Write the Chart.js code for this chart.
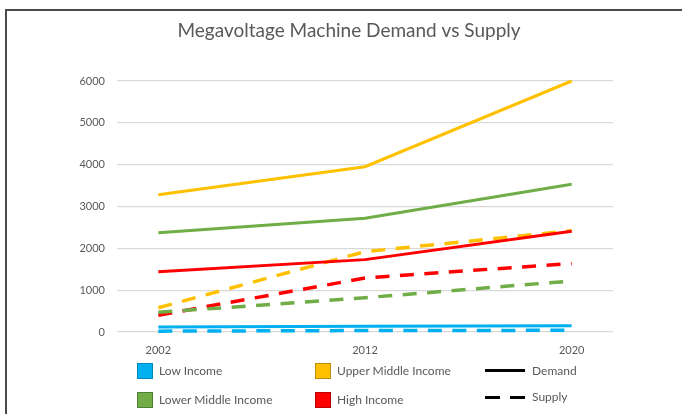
<!DOCTYPE html>
<html><head><meta charset="utf-8">
<script src="https://cdn.jsdelivr.net/npm/chart.js@4/dist/chart.umd.min.js"></script>
<style>
html,body{margin:0;padding:0;background:#fff;}
#wrap{position:relative;width:682px;height:414px;overflow:hidden;background:#fff;}
#frame{position:absolute;left:5px;top:9px;width:700px;height:420px;border-top:2px solid #4a4a4a;border-left:2px solid #4a4a4a;box-sizing:border-box;}
canvas{position:absolute;left:0;top:0;}
.lg{position:absolute;font-family:Lato, sans-serif;font-size:12px;color:#595959;white-space:nowrap;line-height:14px;}
.sq{position:absolute;width:14px;height:14px;border:1px solid;}
.ln{position:absolute;height:0;width:40px;border-top:3px solid #000;}
</style></head>
<body>
<div id="wrap">
<div id="frame"></div>
<canvas id="c" width="682" height="414"></canvas>
<div id="legend"></div>
</div>
<script>
const years = ['2002', '2012', '2020'];
const groups = ['Low Income', 'Lower Middle Income', 'Upper Middle Income', 'High Income'];
const colors = ['#00B0F0', '#70AD47', '#FFC000', '#FF0000'];
const borders = ['#0089bb', '#507e33', '#bf9000', '#b80000'];
const seriesKinds = ['Demand', 'Supply'];
const yTicks = [0, 1000, 2000, 3000, 4000, 5000, 6000];

const demandLow = [120, 140, 150];
const demandLowerMiddle = [2370, 2720, 3530];
const demandUpperMiddle = [3280, 3950, 6000];
const demandHigh = [1440, 1730, 2410];

const supplyLow = [20, 35, 40];
const supplyLowerMiddle = [470, 820, 1220];
const supplyUpperMiddle = [580, 1920, 2420];
const supplyHigh = [400, 1290, 1640];

const demand = [demandLow, demandLowerMiddle, demandUpperMiddle, demandHigh];
const supply = [supplyLow, supplyLowerMiddle, supplyUpperMiddle, supplyHigh];

const toPts = arr => arr.map((v, i) => ({x: i, y: v}));
const datasets = [];
groups.forEach((g, i) => {
  datasets.push({label: g + ' Demand', data: toPts(demand[i]), borderColor: colors[i], borderWidth: 3, clip: false, order: 1});
});
groups.forEach((g, i) => {
  datasets.push({label: g + ' Supply', data: toPts(supply[i]), borderColor: colors[i], borderWidth: 3.5, borderDash: [14, 10.5], clip: false, order: 2});
});

const tickFont = {family: 'Lato', size: 11};
new Chart(document.getElementById('c'), {
  type: 'line',
  data: {datasets},
  options: {
    responsive: false, animation: false, events: [],
    layout: {padding: {left: 16, right: 0, top: 0, bottom: 0}},
    elements: {point: {radius: 0}, line: {tension: 0, borderCapStyle: 'butt'}},
    plugins: {
      legend: {display: false}, tooltip: {enabled: false},
      title: {display: true, text: 'Megavoltage Machine Demand vs Supply', color: '#595959',
        font: {family: 'Lato', size: 19, weight: 'normal'}, padding: {top: 19, bottom: 39.2}}
    },
    scales: {
      x: {type: 'linear', min: -0.2, max: 2.2,
        grid: {display: false, drawTicks: false}, border: {display: false},
        afterFit(s) { s.height = 82; },
        afterBuildTicks(s) { s.ticks = years.map((_, i) => ({value: i})); },
        ticks: {padding: 12, color: '#595959', font: tickFont, maxRotation: 0, autoSkip: false,
          callback: v => years[v]}},
      y: {min: 0, max: 6000,
        afterFit(s) { s.width = 101; },
        afterBuildTicks(s) { s.ticks = yTicks.map(v => ({value: v})); },
        grid: {color: '#d9d9d9', drawTicks: false, lineWidth: 1.3}, border: {display: false},
        ticks: {padding: 12, color: '#595959', font: tickFont, callback: v => String(v)}},
      yRight: {position: 'right', min: 0, max: 6000,
        afterFit(s) { s.width = 69; },
        grid: {display: false, drawTicks: false}, border: {display: false},
        ticks: {display: false}}
    }
  }
});

// HTML legend (3 columns x 2 rows)
const lg = document.getElementById('legend');
const colX = [137, 315, 485];
const rowY = [371, 400];
const place = [[0, 0], [0, 1], [1, 0], [1, 1]];
groups.forEach((g, i) => {
  const [c, r] = place[i];
  const sq = document.createElement('div');
  sq.className = 'sq';
  sq.style.left = colX[c] + 'px'; sq.style.top = (rowY[r] - 8) + 'px';
  sq.style.background = colors[i]; sq.style.borderColor = borders[i];
  lg.appendChild(sq);
  const t = document.createElement('div');
  t.className = 'lg'; t.textContent = g;
  t.style.left = (colX[c] + 22) + 'px'; t.style.top = (rowY[r] - 7) + 'px';
  lg.appendChild(t);
});
seriesKinds.forEach((k, r) => {
  if (r === 0) {
    const ln = document.createElement('div');
    ln.className = 'ln'; ln.style.left = colX[2] + 'px'; ln.style.top = (rowY[r] - 2) + 'px';
    lg.appendChild(ln);
  } else {
    [0, 25].forEach(dx => {
      const ln = document.createElement('div');
      ln.className = 'ln'; ln.style.width = '15px';
      ln.style.left = (colX[2] + dx) + 'px'; ln.style.top = (rowY[r] - 4) + 'px';
      lg.appendChild(ln);
    });
  }
  const t = document.createElement('div');
  t.className = 'lg'; t.textContent = k;
  t.style.left = (colX[2] + 47) + 'px'; t.style.top = (rowY[r] - (r ? 10 : 7)) + 'px';
  lg.appendChild(t);
});
</script>
</body></html>
